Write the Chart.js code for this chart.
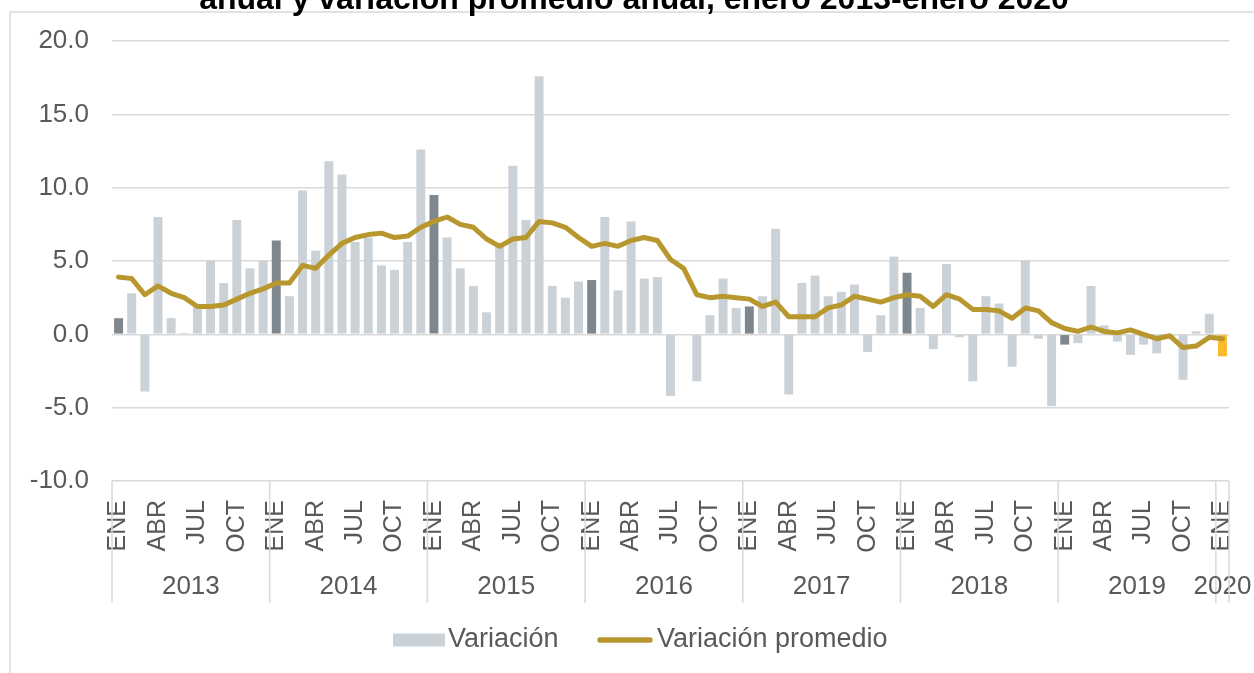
<!DOCTYPE html>
<html>
<head>
<meta charset="utf-8">
<script src="https://cdn.jsdelivr.net/npm/chart.js@4/dist/chart.umd.min.js"></script>
<style>
  html, body { margin: 0; padding: 0; background: #fff; }
  #wrap { width: 1254px; height: 673px; position: relative; }
</style>
</head>
<body>
<div id="wrap"><canvas id="chart" width="1254" height="673"></canvas></div>
<script>
const titleText = 'anual y variación promedio anual, enero 2013-enero 2020';

const monthNames = ['ENE','FEB','MAR','ABR','MAY','JUN','JUL','AGO','SEP','OCT','NOV','DIC'];
const years = [2013, 2014, 2015, 2016, 2017, 2018, 2019, 2020];

const variacion = [
  1.1, 2.8, -3.9, 8.0, 1.1, 0.1, 1.9, 5.0, 3.5, 7.8, 4.5, 5.0,
  6.4, 2.6, 9.8, 5.7, 11.8, 10.9, 6.3, 6.6, 4.7, 4.4, 6.3, 12.6,
  9.5, 6.6, 4.5, 3.3, 1.5, 6.0, 11.5, 7.8, 17.6, 3.3, 2.5, 3.6,
  3.7, 8.0, 3.0, 7.7, 3.8, 3.9, -4.2, 0.0, -3.2, 1.3, 3.8, 1.8,
  1.9, 2.6, 7.2, -4.1, 3.5, 4.0, 2.6, 2.9, 3.4, -1.2, 1.3, 5.3,
  4.2, 1.8, -1.0, 4.8, -0.2, -3.2, 2.6, 2.1, -2.2, 5.0, -0.3, -4.9,
  -0.7, -0.6, 3.3, 0.6, -0.5, -1.4, -0.7, -1.3, -0.1, -3.1, 0.2, 1.4,
  -1.5
];

const promedio = [
  3.9, 3.8, 2.7, 3.3, 2.8, 2.5, 1.9, 1.9, 2.0, 2.4, 2.8, 3.1,
  3.5, 3.5, 4.7, 4.5, 5.4, 6.2, 6.6, 6.8, 6.9, 6.6, 6.7, 7.3,
  7.7, 8.0, 7.5, 7.3, 6.5, 6.0, 6.5, 6.6, 7.7, 7.6, 7.3, 6.6,
  6.0, 6.2, 6.0, 6.4, 6.6, 6.4, 5.1, 4.5, 2.7, 2.5, 2.6, 2.5,
  2.4, 1.9, 2.2, 1.2, 1.2, 1.2, 1.8, 2.0, 2.6, 2.4, 2.2, 2.5,
  2.7, 2.6, 1.9, 2.7, 2.4, 1.7, 1.7, 1.6, 1.1, 1.8, 1.6, 0.8,
  0.4, 0.2, 0.5, 0.2, 0.1, 0.3, 0.0, -0.3, -0.1, -0.9, -0.8, -0.2,
  -0.3
];

// one label per month, Jan 2013 .. Jan 2020
const labels = variacion.map((v, i) => monthNames[i % 12]);
const labelYears = variacion.map((v, i) => years[Math.floor(i / 12)]);

const barColors = variacion.map((v, i) => {
  if (i === variacion.length - 1) return '#FBBA2C';
  if (i % 12 === 0) return '#7E878D';
  return '#CAD1D7';
});

const textColor = '#595959';
const gridColor = '#D9D9D9';
const lineColor = '#B8972F';
const fontFam = '"Liberation Sans", Arial, sans-serif';

// frame + cut-off title
const framePlugin = {
  id: 'frame',
  beforeDraw(chart) {
    const ctx = chart.ctx;
    ctx.save();
    ctx.strokeStyle = gridColor;
    ctx.lineWidth = 1.5;
    ctx.beginPath();
    ctx.moveTo(10, 673);
    ctx.lineTo(10, 12);
    ctx.lineTo(1254, 12);
    ctx.stroke();
    ctx.fillStyle = '#000';
    ctx.font = 'bold 32px ' + fontFam;
    ctx.textAlign = 'center';
    ctx.textBaseline = 'alphabetic';
    ctx.fillText(titleText, 634, 9);
    ctx.restore();
  }
};

// year row under the month labels, with separators
const yearAxisPlugin = {
  id: 'yearAxis',
  afterDraw(chart) {
    const ctx = chart.ctx;
    const x = chart.scales.x;
    const half = (x.getPixelForValue(1) - x.getPixelForValue(0)) / 2;
    const top = chart.chartArea.bottom;
    ctx.save();
    ctx.strokeStyle = gridColor;
    ctx.lineWidth = 1.5;
    ctx.fillStyle = textColor;
    ctx.font = '26px ' + fontFam;
    ctx.textAlign = 'center';
    ctx.textBaseline = 'middle';
    years.forEach(yr => {
      const first = labelYears.indexOf(yr);
      const last = labelYears.lastIndexOf(yr);
      const left = x.getPixelForValue(first) - half;
      ctx.beginPath();
      ctx.moveTo(left, top);
      ctx.lineTo(left, 603);
      ctx.stroke();
      const cx = (x.getPixelForValue(first) + x.getPixelForValue(last)) / 2;
      ctx.fillText(String(yr), cx, 587);
    });
    const right = x.getPixelForValue(labels.length - 1) + half;
    ctx.beginPath();
    ctx.moveTo(right, top);
    ctx.lineTo(right, 603);
    ctx.stroke();
    ctx.restore();
  }
};

// legend like the original: wide grey box, gold line
const legendPlugin = {
  id: 'customLegend',
  afterDraw(chart) {
    const ctx = chart.ctx;
    const ds = chart.data.datasets;
    ctx.save();
    ctx.font = '27px ' + fontFam;
    ctx.textBaseline = 'middle';
    ctx.textAlign = 'left';
    const y = 640;
    let cx = 393;
    ctx.fillStyle = '#CAD1D7';
    ctx.fillRect(cx, y - 6.5, 52, 13);
    cx += 55;
    ctx.fillStyle = textColor;
    ctx.fillText(ds[0].label, cx, y);
    cx = 597;
    ctx.strokeStyle = lineColor;
    ctx.lineWidth = 5.5;
    ctx.lineCap = 'round';
    ctx.beginPath();
    ctx.moveTo(cx + 3, y);
    ctx.lineTo(cx + 53, y);
    ctx.stroke();
    ctx.fillText(ds[1].label, 657, y);
    ctx.restore();
  }
};

const ctx = document.getElementById('chart');

new Chart(ctx, {
  type: 'bar',
  data: {
    labels,
    datasets: [
      {
        type: 'bar',
        label: 'Variación',
        data: variacion,
        backgroundColor: barColors,
        categoryPercentage: 1.0,
        barPercentage: 0.68,
        order: 2
      },
      {
        type: 'line',
        label: 'Variación promedio',
        data: promedio,
        borderColor: lineColor,
        borderWidth: 5,
        borderJoinStyle: 'round',
        borderCapStyle: 'round',
        pointRadius: 0,
        tension: 0,
        fill: false,
        order: 1
      }
    ]
  },
  options: {
    responsive: false,
    animation: false,
    layout: { padding: { top: 41, right: 25, bottom: 0, left: 0 } },
    scales: {
      x: {
        grid: { display: false, drawTicks: false },
        border: { display: false },
        ticks: {
          autoSkip: false,
          minRotation: 90,
          maxRotation: 90,
          padding: 19,
          color: textColor,
          font: { size: 25, family: fontFam },
          callback: function (val, i) {
            return i % 3 === 0 ? labels[i] : '';
          }
        },
        afterFit: function (scale) {
          scale.height = 192;
          scale.paddingLeft = 0;
          scale.paddingRight = 0;
        }
      },
      y: {
        min: -10,
        max: 20,
        grid: { color: gridColor, lineWidth: 1.5, drawTicks: false },
        border: { display: false },
        ticks: {
          stepSize: 5,
          padding: 23,
          color: textColor,
          font: { size: 26, family: fontFam },
          callback: v => v.toFixed(1)
        },
        afterFit: function (scale) { scale.width = 112; }
      }
    },
    plugins: {
      legend: { display: false },
      title: { display: false },
      tooltip: { enabled: false }
    }
  },
  plugins: [framePlugin, yearAxisPlugin, legendPlugin]
});
</script>
</body>
</html>
